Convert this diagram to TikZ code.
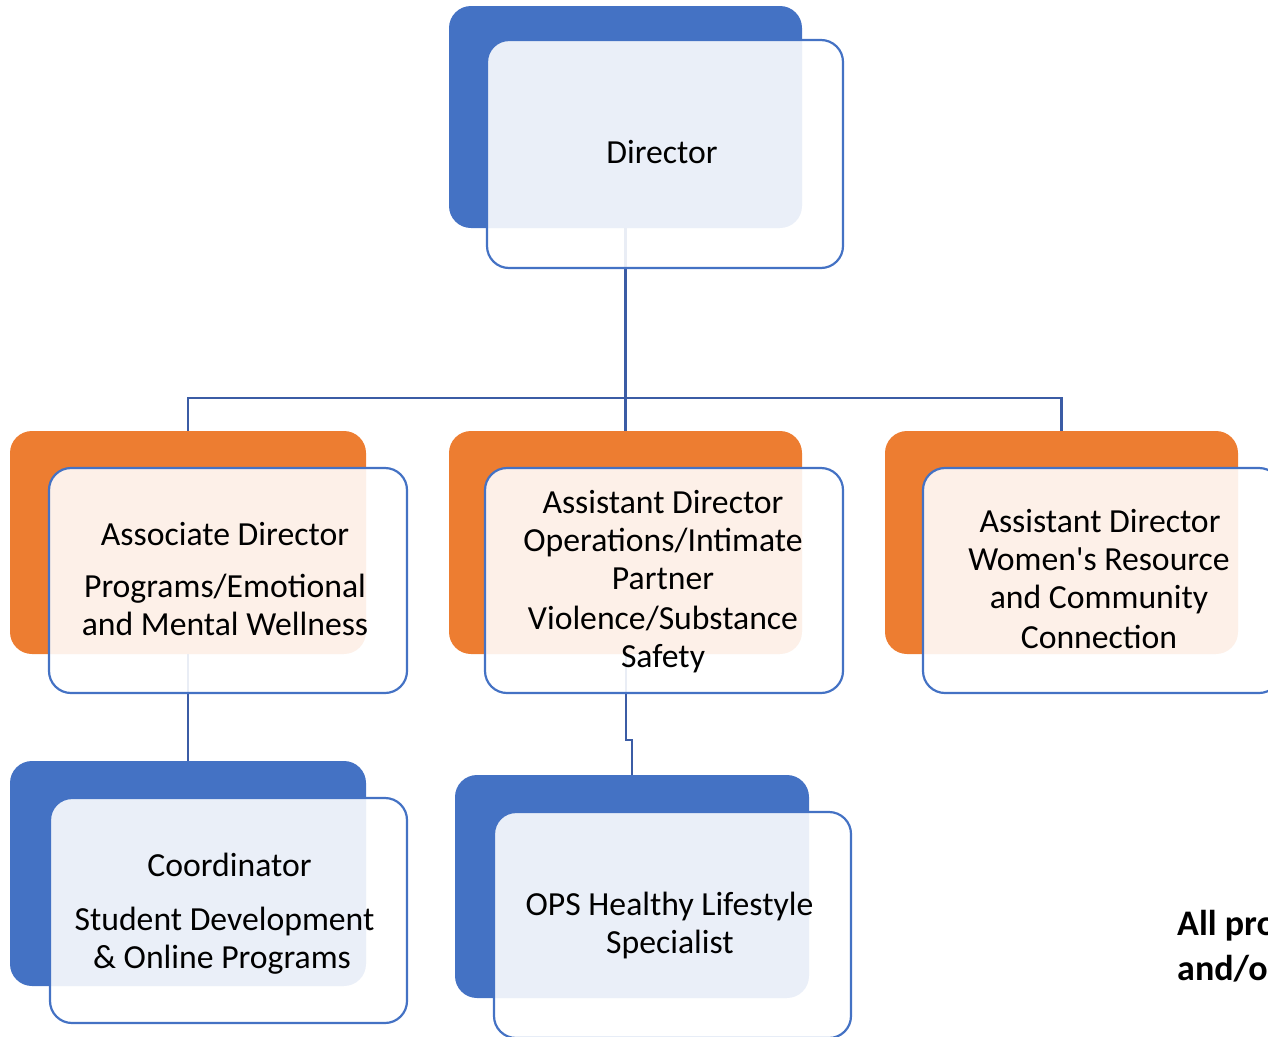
\documentclass[tikz,border=0pt]{standalone}
\usepackage{fontspec}
\setmainfont{Carlito}[Ligatures=TeXOff]
\usetikzlibrary{backgrounds}
\definecolor{accblue}{HTML}{4472C4}
\definecolor{accorange}{HTML}{ED7D31}
\definecolor{connblue}{HTML}{3B5CA5}
\tikzset{
  backbox/.style={rectangle, rounded corners=22pt, inner sep=0pt, draw=none},
  bluebox/.style={backbox, fill=accblue},
  orangebox/.style={backbox, fill=accorange},
  frontbox/.style={rectangle, rounded corners=22pt, inner sep=0pt, draw=accblue, line width=2.2pt, fill=white, fill opacity=0.89, draw opacity=1},
  conn/.style={draw=connblue, line width=2.2pt},
  txt/.style={anchor=base, inner sep=0pt, font=\fontsize{33.7}{38}\selectfont, text=black},
  boldtxt/.style={anchor=base west, inner sep=0pt, font=\fontsize{36}{45}\selectfont\bfseries, text=black}
}
\begin{document}
\begin{tikzpicture}[x=1pt, y=-1pt]
\useasboundingbox (0,0) rectangle (1268,1036);
\clip (0,0) rectangle (1268,1036);
% Director
\node[bluebox, minimum width=353pt, minimum height=222pt] (dirB) at (625.5,117) {};
\node[frontbox, minimum width=356pt, minimum height=228pt] (dirF) at (665,154) {};
% Associate Director
\node[orangebox, minimum width=356pt, minimum height=223pt] (aB) at (188,542.5) {};
\node[frontbox, minimum width=358pt, minimum height=225pt] (aF) at (228,580.5) {};
% Assistant Director Operations
\node[orangebox, minimum width=353pt, minimum height=223pt] (bB) at (625.5,542.5) {};
\node[frontbox, minimum width=358pt, minimum height=225pt] (bF) at (664,580.5) {};
% Assistant Director Women's
\node[orangebox, minimum width=353pt, minimum height=223pt] (cB) at (1061.5,542.5) {};
\node[frontbox, minimum width=358pt, minimum height=225pt] (cF) at (1102,580.5) {};
% Coordinator
\node[bluebox, minimum width=356pt, minimum height=225pt] (dB) at (188,873.5) {};
\node[frontbox, minimum width=357pt, minimum height=225pt] (dF) at (228.5,910.5) {};
% OPS Healthy Lifestyle
\node[bluebox, minimum width=354pt, minimum height=223pt] (eB) at (632,886.5) {};
\node[frontbox, minimum width=357pt, minimum height=226pt] (eF) at (672.5,925) {};

% connectors
\coordinate (bus) at (625.5,398);
\coordinate (jog) at (628,740);
\begin{scope}[on background layer]
\draw[conn] (dirB.south) -- (bB.north);
\draw[conn] (aB.north) |- (bus) -| (cB.north);
\draw[conn] (aB.south) -- (dB.north);
\draw[conn, line width=2pt] (bB.south) |- (jog) -| (eB.north);
\end{scope}

% texts
\node[txt] (t0) at (662,163) {Director};

\node[txt] (a1) at (225,545) {Associate Director};
\node[txt] (a2) at (225,597) {Programs/Emotional};
\node[txt] (a3) at (225,635) {and Mental Wellness};

\node[txt] (b1) at (663,513) {Assistant Director};
\node[txt] (b2) at (663,551) {Operations/Intimate};
\node[txt] (b3) at (663,589) {Partner};
\node[txt] (b4) at (663,629) {Violence/Substance};
\node[txt] (b5) at (663,667) {Safety};

\node[txt] (c1) at (1100,532) {Assistant Director};
\node[txt] (c2) at (1099,570.5) {Women's Resource};
\node[txt] (c3) at (1099,608) {and Community};
\node[txt] (c4) at (1099,648) {Connection};

\node[txt] (d1) at (229.5,876) {Coordinator};
\node[txt] (d2) at (224.5,930) {Student Development};
\node[txt] (d3) at (222,968) {\& Online Programs};

\node[txt] (e1) at (669.5,915) {OPS Healthy Lifestyle};
\node[txt] (e2) at (670,953) {Specialist};

\node[boldtxt] (n1) at (1177,935) {All programs};
\node[boldtxt] (n2) at (1177,980) {and/or};
\end{tikzpicture}
\end{document}
